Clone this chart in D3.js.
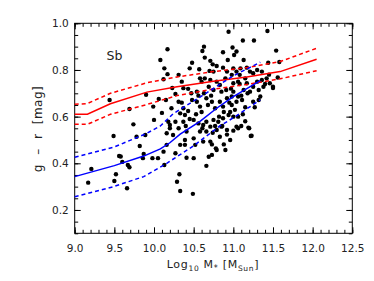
<!DOCTYPE html>
<html>
<head>
<meta charset="utf-8">
<script src="https://cdn.jsdelivr.net/npm/d3@7"></script>
<style>
  body { margin: 0; background: #fff; }
  svg text { font-family: "DejaVu Sans", sans-serif; fill: #222; }
</style>
</head>
<body>
<div class="visHolder"></div>
<script>
// galaxy sample: stellar mass vs colour
var galMass = [9.17, 9.21, 9.44, 9.49, 9.50, 9.52, 9.56, 9.58, 9.60, 9.66, 9.67, 9.69, 9.69, 9.74, 9.78, 9.82, 9.86, 9.87, 9.90, 9.89, 9.98, 10.05, 9.99, 10.00, 10.08, 10.13, 10.13, 10.17, 10.15, 10.10, 10.17, 10.12, 10.06,
  10.94, 10.61, 10.63, 10.87, 10.48, 10.64, 10.71, 10.74, 10.79, 10.87, 10.93, 10.45, 10.57, 10.70, 10.75, 10.31, 10.35, 10.37, 10.43, 10.58, 10.60, 10.64, 10.71, 10.79, 10.83, 10.90, 10.92, 10.69, 10.75, 10.85, 10.91, 10.54, 10.23, 10.27,
  11.43, 11.12, 11.26, 10.99, 11.04, 11.01, 11.54, 11.13, 11.09, 11.17, 11.00, 11.04, 11.21, 10.98, 11.08, 11.15, 11.25, 11.30, 11.36, 11.42, 11.46, 11.36, 11.00, 11.06, 11.17, 11.25, 11.32, 11.00, 11.13, 11.21, 11.50, 11.38, 11.58, 11.56, 11.44, 11.50,
  10.98, 11.06, 11.11, 11.04, 10.98, 11.02, 11.00, 11.06, 11.25, 11.32, 11.34, 11.04, 11.06, 11.20, 11.23, 10.96,
  10.88, 10.83, 10.73, 10.78, 10.69, 10.66, 10.92, 10.92, 10.85, 10.77, 10.71, 10.61, 10.66, 10.74, 10.79,
  10.22, 10.31, 10.37, 10.33, 10.39, 10.43, 10.48, 10.54, 10.58, 10.66, 10.73, 10.77, 10.83, 10.87, 10.92, 10.18, 10.27, 10.20, 10.31, 10.16, 10.24, 10.37, 10.50, 10.56, 10.62, 10.66, 10.75, 10.81, 10.87, 10.94, 10.58, 10.41, 10.50, 10.39, 10.16, 10.33, 10.39, 10.52, 10.62, 10.71, 10.12, 10.73, 10.79, 10.50, 10.90,
  10.27, 10.41, 10.29, 10.32, 10.33, 10.49, 10.20,
  10.60, 10.68, 10.72, 10.63, 10.56, 10.95, 11.10, 11.15, 11.12, 11.18, 10.97, 11.08, 10.45, 10.40, 10.35, 11.30, 11.40, 11.45, 10.86, 10.96, 10.88, 11.10, 11.15, 11.00, 11.19, 11.22, 10.82, 11.27, 10.53, 10.47];
var galColour = [0.317, 0.376, 0.671, 0.517, 0.324, 0.353, 0.431, 0.429, 0.406, 0.293, 0.393, 0.383, 0.633, 0.567, 0.514, 0.474, 0.422, 0.440, 0.694, 0.521, 0.422, 0.422, 0.643, 0.586, 0.843, 0.393, 0.807, 0.889, 0.671, 0.616, 0.782, 0.760, 0.676,
  0.964, 0.881, 0.900, 0.876, 0.831, 0.853, 0.839, 0.824, 0.817, 0.810, 0.843, 0.807, 0.803, 0.796, 0.793, 0.779, 0.750, 0.722, 0.719, 0.764, 0.750, 0.764, 0.757, 0.750, 0.736, 0.764, 0.793, 0.728, 0.714, 0.707, 0.714, 0.707, 0.723, 0.697,
  0.967, 0.926, 0.926, 0.896, 0.879, 0.864, 0.883, 0.843, 0.807, 0.810, 0.807, 0.793, 0.793, 0.779, 0.779, 0.764, 0.786, 0.800, 0.793, 0.764, 0.743, 0.757, 0.743, 0.750, 0.743, 0.728, 0.714, 0.707, 0.714, 0.707, 0.728, 0.728, 0.834, 0.768, 0.831, 0.723,
  0.686, 0.686, 0.671, 0.664, 0.650, 0.629, 0.600, 0.600, 0.664, 0.671, 0.686, 0.557, 0.550, 0.550, 0.518, 0.500,
  0.481, 0.514, 0.481, 0.464, 0.428, 0.389, 0.523, 0.543, 0.557, 0.560, 0.557, 0.550, 0.536, 0.531, 0.543,
  0.636, 0.664, 0.636, 0.614, 0.607, 0.624, 0.671, 0.664, 0.643, 0.679, 0.664, 0.636, 0.664, 0.643, 0.679, 0.578, 0.578, 0.550, 0.550, 0.529, 0.521, 0.578, 0.586, 0.571, 0.564, 0.578, 0.586, 0.578, 0.593, 0.607, 0.536, 0.536, 0.507, 0.500, 0.479, 0.479, 0.479, 0.479, 0.493, 0.493, 0.450, 0.436, 0.457, 0.422, 0.457,
  0.443, 0.424, 0.321, 0.353, 0.281, 0.269, 0.564,
  0.620, 0.650, 0.690, 0.700, 0.690, 0.660, 0.690, 0.640, 0.610, 0.700, 0.720, 0.740, 0.590, 0.560, 0.660, 0.750, 0.740, 0.780, 0.560, 0.620, 0.620, 0.560, 0.580, 0.540, 0.553, 0.517, 0.600, 0.640, 0.610, 0.700];

// red sequence median and scatter
var redMass = [9.0, 9.16, 9.45, 9.91, 10.29, 10.75, 11.17, 11.59, 12.05];
var redMid = [0.610, 0.610, 0.655, 0.705, 0.728, 0.752, 0.770, 0.793, 0.846];
var redHigh = [0.653, 0.656, 0.700, 0.745, 0.770, 0.793, 0.810, 0.836, 0.893];
var redLow = [0.567, 0.567, 0.610, 0.652, 0.690, 0.718, 0.738, 0.762, 0.797];

// blue cloud median and scatter
var blueMass = [9.0, 9.5, 9.87, 10.08, 10.2, 10.33, 10.58, 10.79, 11.0, 11.34];
var blueMid = [0.343, 0.390, 0.431, 0.462, 0.488, 0.525, 0.580, 0.636, 0.686, 0.754];
var blueHighMass = [9.0, 9.5, 9.9, 10.08, 10.24, 10.58, 11.0, 11.34];
var blueHigh = [0.426, 0.470, 0.527, 0.560, 0.612, 0.684, 0.775, 0.833];
var blueLowMass = [9.0, 9.49, 9.87, 10.16, 10.5, 10.83, 11.0, 11.34];
var blueLow = [0.257, 0.300, 0.343, 0.400, 0.475, 0.560, 0.595, 0.672];

// tick labels
var xTicks = [9.0, 9.5, 10.0, 10.5, 11.0, 11.5, 12.0, 12.5];
var yTicks = [0.2, 0.4, 0.6, 0.8, 1.0];

// plot box (note: "top" is reserved on window, so use own names)
var width = 374,
    height = 281,
    boxL = 74.7, boxR = 352.3, boxT = 23.3, boxB = 233.3;

var svg = d3.select('.visHolder').append('svg').attr('width', width).attr('height', height);

var xScale = d3.scaleLinear().domain([9.0, 12.5]).range([boxL, boxR]);
var yScale = d3.scaleLinear().domain([0.1, 1.0]).range([boxB, boxT]);

var xMinor = d3.range(90, 126, 1).map(function (d) { return d / 10; });
var yMinor = d3.range(2, 21, 1).map(function (d) { return d / 20; });

// unlabelled inward ticks (minor ticks and the mirrored top/right sides)
function addTicks(axisFn, scale, values, size, tr) {
  var ax = axisFn(scale).tickValues(values).tickSizeInner(-size).tickSizeOuter(0).tickFormat('');
  var g = svg.append('g').attr('transform', tr).call(ax);
  g.select('.domain').remove();
  g.selectAll('line').attr('stroke', '#000');
}

var xb = svg.append('g').attr('transform', 'translate(0,' + boxB + ')')
  .call(d3.axisBottom(xScale).tickValues(xTicks).tickSizeInner(-6).tickSizeOuter(0).tickPadding(11).tickFormat(d3.format('.1f')));
var yl = svg.append('g').attr('transform', 'translate(' + boxL + ',0)')
  .call(d3.axisLeft(yScale).tickValues(yTicks).tickSizeInner(-6).tickSizeOuter(0).tickPadding(6).tickFormat(d3.format('.1f')));
addTicks(d3.axisBottom, xScale, xMinor, 3.5, 'translate(0,' + boxB + ')');
addTicks(d3.axisTop, xScale, xMinor, 3.5, 'translate(0,' + boxT + ')');
addTicks(d3.axisTop, xScale, xTicks, 6, 'translate(0,' + boxT + ')');
addTicks(d3.axisLeft, yScale, yMinor, 3.5, 'translate(' + boxL + ',0)');
addTicks(d3.axisRight, yScale, yMinor, 3.5, 'translate(' + boxR + ',0)');
addTicks(d3.axisRight, yScale, yTicks, 6, 'translate(' + boxR + ',0)');

[xb, yl].forEach(function (g) {
  g.select('.domain').remove();
  g.selectAll('text').style('font-size', '10.5px').style('font-family', '"DejaVu Sans", sans-serif').attr('fill', '#222');
});

// frame
svg.append('rect').attr('x', boxL).attr('y', boxT).attr('width', boxR - boxL).attr('height', boxB - boxT)
  .attr('fill', 'none').attr('stroke', '#000').attr('stroke-width', 1);

// points
svg.append('g').selectAll('circle').data(galMass).enter().append('circle')
  .attr('cx', function (d) { return xScale(d); })
  .attr('cy', function (d, i) { return yScale(galColour[i]); })
  .attr('r', 2.2).attr('fill', '#000');

// lines
var line = d3.line().x(function (d) { return xScale(d[0]); }).y(function (d) { return yScale(d[1]); });
function drawLine(xs, ys, colour, dashed) {
  svg.append('path').datum(d3.zip(xs, ys)).attr('d', line)
    .attr('fill', 'none').attr('stroke', colour).attr('stroke-width', 1.5)
    .attr('stroke-dasharray', dashed ? '4,3' : null);
}
drawLine(redMass, redMid, '#ff0000', false);
drawLine(redMass, redHigh, '#ff0000', true);
drawLine(redMass, redLow, '#ff0000', true);
drawLine(blueMass, blueMid, '#0000ff', false);
drawLine(blueHighMass, blueHigh, '#0000ff', true);
drawLine(blueLowMass, blueLow, '#0000ff', true);

// label inside the panel
svg.append('text').attr('x', 106.5).attr('y', 59.5).text('Sb')
  .style('font-size', '12.5px').attr('fill', '#555');

// axis titles
var xt = svg.append('text').attr('x', 213).attr('y', 268).attr('text-anchor', 'middle')
  .style('font-size', '11px').style('letter-spacing', '0.7px');
xt.append('tspan').text('Log');
xt.append('tspan').text('10').style('font-size', '7.5px').attr('dy', 2.5);
xt.append('tspan').text(' M').attr('dy', -2.5);
xt.append('tspan').text('*').style('font-size', '8px').attr('dy', 3);
xt.append('tspan').text(' [M').attr('dy', -3);
xt.append('tspan').text('Sun').style('font-size', '7.5px').attr('dy', 2.5);
xt.append('tspan').text(']').attr('dy', -2.5);

svg.append('text').attr('transform', 'translate(42,129) rotate(-90)').attr('text-anchor', 'middle')
  .style('font-size', '12px').style('word-spacing', '5px').style('letter-spacing', '0.5px')
  .text('g \u2013 r [mag]');
</script>
</body>
</html>
